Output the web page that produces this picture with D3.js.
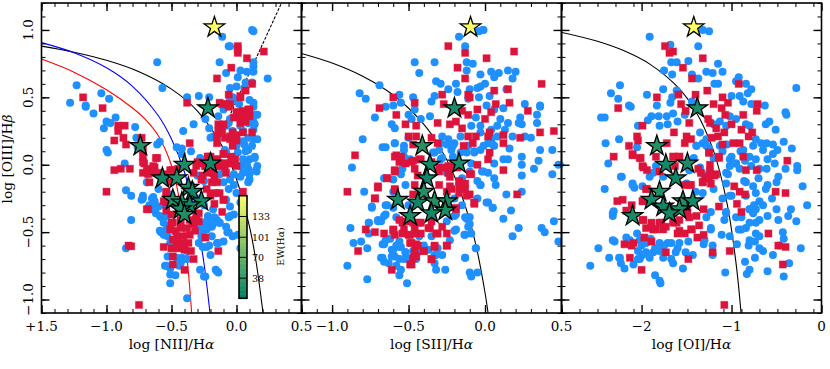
<!DOCTYPE html>
<html>
<head>
<meta charset="utf-8">
<script src="https://cdn.jsdelivr.net/npm/d3@7"></script>
<style>
  body { margin: 0; background: #fff; }
  text { font-family: "DejaVu Serif", serif; fill: #000; }
</style>
</head>
<body>
<script>
// ----- DATA, [x, y] in axis units -----

const niiBlue = [[.12,1.0],[.13,.99],[-.11,.95],[-.06,.88],[-.05,.88],[-.61,.76],[-.13,.76],[.13,.76],[.13,.73],[-.08,.68],[.03,.70],[.08,.69],[.13,.69],[.24,.64],[.01,.65],[.12,.61],[.07,.61],[-1.23,.59],[-.57,.57],[-.05,.57],[0,.58],[.06,.57],[-1.04,.53],[-.98,.49],[-1.28,.46],[-1.16,.44],[-1.16,.43],[-1.10,.38],[-.38,.50],[-.29,.51],[-.21,.50],[-.93,.35],[-1.0,.32],[-.97,.31],[-1.02,.27],[-.78,.28],[-.33,.30],[-.41,.25],[-.24,.34],[-.21,.27],[-.2,.2],[-.59,.17],[-.61,.15],[-1.0,.11],[-.99,.09],[-.77,.20],[-.76,.13],[-.46,.13],[-.42,.12],[-.35,.10],[-.42,.08],[-.86,.01],[-.28,.05],[.15,.37],[.1,.39],[.13,.32],[.09,.31],[.13,.26],[-.05,.34],[-.08,.29],[-.03,.25],[.05,.25],[.09,.2],[.13,.19],[.06,.15],[.09,.11],[.14,.06],[.1,.04],[.07,.01],[.15,-.04],[.09,-.03],[.03,-.01],[-.03,.19],[0,.14],[-.08,.09],[-.03,.5],[.02,.45],[-.05,.45],[.1,.48],[.13,.43],
[-.85,-.19],[-.81,-.23],[-.72,-.23],[-.73,-.26],[-.81,-.41],[-.85,-.62],[-.67,-.30],[-.64,-.33],[-.65,-.25],[-.62,-.36],[-.54,-.38],[-.58,-.50],[-.55,-.52],[-.53,-.53],[-.51,-.58],[-.53,-.68],[-.55,-.75],[-.51,-.77],[-.47,-.82],[-.51,-.88],[-.38,-.99],[-.44,-.75],[-.41,-.70],[-.46,-.69],[-.38,-.64],[-.28,-.78],[-.24,-.83],[-.16,-.78],[-.14,-.80],[-.26,-.61],[-.21,-.60],[-.14,-.58],[-.1,-.57],[-.06,-.50],[-.03,-.53],[.01,-.52],[.03,-.62],[-.06,-.39],[-.18,-.44],[-.23,-.42],[-.13,-.43],[-.28,-.46],[-.26,-.51],[-.22,-.38],
[-.05,-.38],[-.07,-.50],[-.15,-.58],[-.23,-.61],[-.2,-.67],[-.15,-.79],[-.25,-.83],[-.54,-.75],[-.59,-.49],[-.56,-.52],[-.58,-.39],[-.67,-.31],[-.64,-.24],[-.69,-.13],[.05,-.06],[.07,0],[.155,-.05],[.1,-.11],[.03,-.09],[-.05,-.11],[-.1,-.13],[-.15,-.21],[-.08,-.26],[-.05,-.31],[-.18,-.33],[-.19,-.46],[-.24,-.43],[-.27,-.53],[-.15,-.41],[-.6,-.18],[-.55,-.3],[-.5,-.22],[-.52,-.45],[-.3,-.25],[-.25,-.3],[-.35,-.15],[-.3,-.08],[-.25,-.12],
[0,.48],[.13,.46],[.16,.37],[-.05,.48],[-.1,.41],[-.14,.36],[-.06,.31],[.03,.29],[.09,.31],[.14,.30],[-.18,.21],[.05,.175],[.12,.14],[.16,.19],[.07,.1],[.01,.09],[.14,.05],[.08,0],[.16,-.01],[.1,-.07],[-.09,.11],[.05,.04],[-.02,-.07],[-.13,-.07],[-.63,-.27],[-.6,-.31],[-.63,-.33],[-.59,-.38],[-.56,-.43],[-.54,-.48],[-.72,-.25],[-.51,-.815],[-.43,-.73],[-.42,-.69],[-.38,-.7],[-.29,-.58],[-.27,-.46],[-.23,-.48],[-.19,-.53],[-.22,-.42],[-.17,-.39],[-.13,-.43],[-.08,-.46],[-.02,-.37],[.03,-.28],[0,-.21],[-.06,-.18],[-.02,-.15],[.09,-.13]];

const niiRed = [[.01,.88],[.01,.86],[.01,.83],[.08,.79],[.21,.84],[-.04,.72],[-.15,.64],[.12,.60],[.07,.55],[.03,.51],[-.06,.52],[-.38,.46],[-1.18,.50],[-1.03,.42],[-.91,.29],[-.86,.29],[-.91,.25],[-.87,.20],[-.94,.18],[-.85,.15],[-.73,.20],[-.72,.11],[-.72,.06],[-.71,.01],[-.62,.05],[-.69,-.03],[-.63,-.02],[-.68,-.07],[-.82,-.03],[-.89,-.03],[-.94,-.04],[-.36,.16],[-.13,.46],[-.05,.45],[.05,.40],[.09,.41],[.10,.36],[0,.39],[.03,.31],[.07,.32],[.12,.24],[.05,.24],[-.03,.24],[-.05,.21],[-.14,.30],[-.10,.30],[-.14,.25],[-.15,.21],[-.15,.16],[0,.18],[-.03,.14],[-.04,.06],[-.1,.08],[-.08,.01],[-.15,.04],[-.22,.06],[-.28,.01],[-.01,.04],[-.08,.45],[.03,.34],[-.09,.2],[-.2,.06],[-.3,.02],[0,-.01],[-.61,.05],
[-.72,.02],[-.64,-.01],[-.67,-.13],[-.54,-.20],[-.69,-.33],[-.81,-.605],[-.56,-.61],[-.24,-.54],[-.14,-.64],[-.35,-.64],[-.33,-.70],[-.40,-.78],[-.49,-.68],[-.49,-.74],[-.46,-.58],[-.41,-.58],[-.37,-.58],[-.46,-.53],[-.41,-.53],[-.36,-.52],[-.32,-.49],[-.47,-.49],[-.43,-.47],[-.38,-.47],[-.33,-.44],[-.29,-.42],[-.49,-.43],[-.54,-.28],[-.5,-.37],[-.43,-.41],[-.36,-.41],[-.31,-.37],[-.19,-.13],[-.15,-.13],[-.23,-.18],[-.18,-.21],[-.13,-.21],[-.10,-.26],[-.17,-.29],[-.11,-.35],[.05,-.20],[-.26,-.08],[-.24,-.01],[-.33,-.06],[-.18,-.06],[-.09,-.02],[-.49,-.04],[-.51,-.13],[-.59,-.06],[-1.0,-.20],[-.68,-.33],[-.83,-.6],[-.75,-1.04],[-.1,-.26],
[-.11,.25],[-.05,.19],[0,.22],[-.1,.08],[-.05,.01],[-.15,.04],[-.13,-.01],[-.22,.06],[-.24,-.01],[-.18,-.06],[-.08,-.06],[-.02,.35],[.015,.39],[.1,.41],[.05,.37],[-.06,.43],[-.11,.45],[.03,.5],[-.31,-.01],[-.15,-.01],[-.1,.01],[-.27,-.11],[-.22,-.06],[-.17,-.1],[-.2,-.23],[-.43,-.43],[-.49,-.555],[-.5,-.62],[-.45,-.62],[-.4,-.63],[-.51,-.48],[-.34,-.43],[-.31,-.41],[-.29,-.36],[-.45,-.03],[-.51,-.04],[-.55,-.07],[-.64,-.06],[-.72,-.06],[-.54,-.21],[-.56,-.27],[-.54,-.34],[-.5,-.43]];

const niiStars = [[-.22,.42],[-.74,.14],[-.2,.01],[-.40,0],[-.57,-.10],[-.46,-.10],[-.37,-.17],[-.34,-.2],[-.49,-.26],[-.27,-.27],[-.42,-.28],[-.36,-.30],[-.43,-.33],[-.40,-.37]];

const siiBlue = [[-.015,1.0],[-.01,1.0],[-.04,.99],[-.17,.95],[-.13,.88],[-.12,.76],[-.08,.75],[-.46,.76],[-.33,.76],[-.12,.70],[-.43,.68],[-.03,.67],[.04,.69],[.06,.65],[.09,.68],[.15,.70],[.2,.69],[.18,.64],[-.32,.62],[-.29,.60],[-.19,.60],[0,.60],[-.03,.58],[-.05,.57],[-.1,.56],[-.24,.56],[-.18,.54],[-.69,.59],[-.82,.53],[-.78,.49],[-.56,.52],[-.55,.46],[-.47,.5],[-.33,.51],[-.35,.47],[.14,.56],[-.04,.5],[.03,.51],[-.11,.49],[-.6,.44],[-.65,.43],[-.72,.35],[-.46,.41],[-.5,.37],[-.48,.34],[-.42,.34],[-.36,.36],[-.61,.30],[-.59,.27],[-.8,.19],[-.59,.16],[-.65,.13],[-.53,.14],[.26,.45],[.36,.44],[.36,.43],[.34,.37],[.23,.35],[.22,.31],[.24,.30],[.34,.31],[.12,.42],[.06,.41],[.01,.44],[.1,.34],[.15,.31],[.08,.29],[.04,.26],[-.03,.29],[-.06,.35],[-.09,.29],[.18,.21],[.26,.21],[.3,.2],[.06,.14],[.16,.12],[.36,.11],[.44,.11],[.24,.06],[.35,.03],[.48,0],[.24,0],[.32,-.03],[.44,-.07],[.24,-.08],[.12,.04],[.15,.04],[.06,.01],[-.02,-.05],[-.87,-.02],[-.66,-.10],[-.29,.16],[-.24,.19],[-.22,.11],[-.2,.16],[-.28,.21],[-.33,.09],[-.29,.04],[-.11,.14],[-.07,.09],[-.03,.11],[.02,.16],[-.09,.01],[-.16,.09],[-.21,.06],[-.53,.01],[-.54,-.03],[-.55,-.07],[-.5,.2],[-.16,.21],[-.03,.24],[.04,.19],[.08,.21],[.13,.26],
[-.79,-.20],[-.74,-.31],[-.66,-.38],[-.7,-.41],[-.76,-.43],[-.88,-.47],[-.76,-.51],[-.86,-.58],[-.81,-.57],[-.77,-.62],[-.9,-.75],[-.77,-.85],[-.51,-.88],[-.56,-.82],[-.66,-.59],[-.61,-.63],[-.59,-.68],[-.68,-.69],[-.66,-.72],[-.63,-.73],[-.58,-.75],[-.55,-.78],[-.52,-.65],[-.55,-.61],[-.56,-.57],[-.5,-.70],[-.47,-.64],[-.43,-.53],[-.33,-.67],[-.28,-.67],[-.31,-.62],[-.32,-.78],[-.26,-.78],[-.33,-.73],[-.13,-.69],[-.06,-.62],[-.1,-.80],[-.09,-.83],[-.05,-.80],[-.2,-.49],[-.135,-.52],[-.09,-.51],[-.11,-.46],[-.12,-.40],[-.1,-.39],[-.2,-.38],[-.03,-.15],[.07,-.15],[-.05,-.25],[.01,-.28],[.05,-.32],[.14,-.22],[.24,-.20],[.17,-.34],[.12,-.40],[.22,-.47],[.18,-.53],[.37,-.47],[.39,-.50],[.45,-.42],[.48,-.57],[-.64,-.30],[-.6,-.2],[-.52,-.15],[-.5,-.3],[-.15,-.1],[-.1,-.05],[-.05,-.12],[-.2,-.25],[-.15,-.3],[-.25,-.42],[-.45,-.7],[-.4,-.6],[-.58,-.6],[-.53,-.7],[-.62,-.55],
[-.3,.11],[-.25,.15],[-.21,.14],[-.34,.09],[-.28,.05],[-.12,.09],[-.07,.1],[-.01,.14],[.05,.15],[-.53,.11],[-.49,.04],[-.54,.04],[-.01,-.05],[.02,-.06],[.06,-.1],[-.03,-.15],[.02,-.28],[.05,-.32],[-.11,-.39],[-.13,-.39],[-.1,-.44],[-.13,-.52],[-.19,-.48],[-.06,-.62],[-.13,-.69],[-.68,-.42],[-.7,-.42],[-.76,-.43],[-.65,-.37],[-.58,-.39],[-.6,-.32],[-.65,-.3],[-.74,-.32],[-.67,-.59],[-.65,-.56],[-.6,-.63],[-.56,-.61],[-.52,-.65],[-.61,-.68],[-.67,-.69],[-.56,-.7],[-.49,-.7],[-.44,-.65],[-.37,-.63],[-.32,-.67],[-.23,-.56],[-.35,-.53],[-.19,-.37],[-.6,-.11],[-.58,-.05],[-.25,-.06],[-.67,.13],[-.59,.16],[-.53,.06]];

const siiRed = [[-.24,.88],[-.13,.83],[.01,.79],[.19,.84],[-.18,.72],[-.13,.64],[.37,.60],[.06,.55],[.15,.56],[-.28,.52],[-.11,.52],[-.1,.50],[-.6,.50],[-.46,.46],[-.27,.45],[.07,.45],[.16,.46],[-.05,.41],[.04,.39],[.28,.40],[-.69,.42],[-.58,.37],[-.15,.40],[-.11,.37],[0,.34],[-.52,.30],[-.45,.29],[-.31,.31],[-.23,.30],[-.19,.32],[-.15,.27],[.36,.24],[.45,.25],[.03,.24],[.12,.22],[.23,.20],[-.06,.21],[-.11,.21],[.02,.21],[.12,.16],[-.08,.16],[-.14,.14],[-.5,.21],[-.45,.21],[-.35,.20],[-.31,.16],[-.47,.15],[-.85,.07],[-.58,.07],[-.55,.06],[-.56,.02],[-.48,.02],[-.43,.04],[.03,.09],[.02,.04],[-.05,0],[.12,-.04],[-.59,-.04],[-.09,-.07],[-.24,-.01],[-.18,-.02],[-.24,-.06],[-.64,-.10],[-.46,-.03],[-.44,-.08],[-.3,-.02],[-.35,.02],
[-.9,-.20],[-.72,-.25],[-.7,-.16],[.21,-.22],[-.1,-.22],[-.07,-.28],[-.19,-.33],[-.78,-.48],[-.72,-.50],[-.66,-.51],[-.6,-.49],[-.59,-.52],[-.83,-.64],[-.61,-.78],[-.49,-.74],[-.47,-.69],[-.46,-.64],[-.4,-.64],[-.35,-.70],[-.33,-.61],[-.25,-.60],[-.25,-.51],[-.31,-.51],[-.28,-.46],[-.36,-.47],[-.42,-.51],[-.49,-.52],[-.53,-.48],[-.46,-.47],[-.54,-.43],[-.49,-.58],[-.45,-.59],[-.48,-.42],[-.42,-.43],[-.35,-.42],[-.59,-.18],[-.47,-.22],[-.22,-.18],[-.17,-.16],[-.13,-.18],[-.3,-.15],[-.25,-.2],
[-.59,.06],[-.55,.04],[-.52,.01],[-.47,.03],[-.42,.04],[-.59,-.05],[-.64,-.1],[-.7,-.17],[-.72,-.25],[-.59,-.19],[-.46,-.15],[-.27,-.02],[-.21,-.02],[-.3,-.05],[-.23,-.09],[-.13,-.14],[-.17,-.12],[-.23,-.16],[-.17,-.21],[-.12,-.23],[-.07,-.29],[-.1,-.07],[-.19,-.32],[-.56,-.41],[-.52,-.42],[-.47,-.43],[-.43,-.43],[-.37,-.47],[-.32,-.51],[-.5,-.52],[-.46,-.51],[-.54,-.51],[-.6,-.48],[-.48,-.58],[-.44,-.6],[-.33,-.6],[-.25,-.6],[-.4,-.64],[-.45,-.68],[-.48,-.74],[-.35,-.7]];

const siiStars = [[-.2,.42],[-.41,.14],[-.36,0],[-.17,.01],[-.38,-.10],[-.40,-.2],[-.57,-.26],[-.44,-.28],[-.33,-.27],[-.25,-.27],[-.26,-.34],[-.35,-.36],[-.49,-.38]];

const oiBlue = [[-1.25,.99],[-1.32,1.0],[-1.91,.95],[-1.68,.89],[-1.37,.88],[-1.67,.76],[-1.61,.76],[-1.48,.77],[-1.15,.75],[-1.75,.70],[-1.66,.67],[-1.28,.69],[-1.21,.68],[-1.1,.69],[-1.44,.67],[-1.37,.64],[-2.24,.59],[-2.34,.53],[-2.26,.49],[-1.76,.56],[-1.94,.52],[-1.61,.55],[-1.15,.6],[-1.19,.6],[-.92,.65],[-.95,.62],[-.84,.60],[-.78,.56],[-.82,.53],[-.28,.57],[-1.0,.51],[-.91,.51],[-.87,.47],[-1.66,.5],[-1.68,.46],[-1.83,.44],[-2.14,.44],[-2.12,.43],[-1.44,.47],[-.63,.44],[-.78,.45],[-.4,.39],[-.39,.37],[-.58,.32],[-.62,.30],[-.51,.26],[-2.45,.35],[-2.41,.35],[-1.89,.36],[-1.81,.36],[-1.72,.36],[-1.65,.38],[-1.93,.33],[-2.04,.29],[-1.8,.29],[-1.71,.30],[-1.6,.32],[-1.52,.37],[-2.4,.16],[-2.25,.19],[-2.37,.01],[-2.05,.13],[-2.22,-.09],[-2.91,0],[-.42,.17],[-.33,.12],[-.27,-.01],[-.27,-.04],[-.4,-.03],[-.48,-.09],[-.67,.16],[-.61,.16],[-.54,.15],[-.49,.11],[-.54,.08],[-.65,.11],[-.76,.14],[-.73,.19],[-.8,.29],[-.84,.3],[-.95,.34],[-1.02,.36],[-1.06,.29],[-1.13,.32],[-1.35,.24],[-1.28,.19],[-1.39,.14],[-1.32,.16],[-1.0,.06],[-.95,.01],[-1.02,-.01],[-.78,-.01],[-.69,-.03],[-.52,.01],[-.61,-.03],[-.6,.04],[-1.04,-.07],[-.91,-.03],[-1.2,.3],[-1.05,.15],[-.9,.1],[-.85,.03],[-1.2,.05],[-1.1,.1],[-1.42,.05],[-1.35,-.02],[-1.25,.12],
[-2.41,-.18],[-2.31,-.345],[-2.32,-.38],[-2.3,-.57],[-2.48,-.62],[-2.36,-.69],[-2.57,-.75],[-2.24,-.69],[-2.23,-.73],[-2.19,-.77],[-2.09,-.74],[-2.17,-.54],[-2.05,-.51],[-2.02,-.56],[-2.04,-.64],[-2.0,-.6],[-1.95,-.65],[-2.02,-.70],[-1.85,-.82],[-1.79,-.88],[-1.8,-.86],[-1.91,-.69],[-1.8,-.64],[-1.76,-.69],[-1.67,-.58],[-1.67,-.70],[-1.65,-.73],[-1.54,-.77],[-1.51,-.65],[-1.58,-.58],[-1.48,-.57],[-1.31,-.59],[-1.21,-.67],[-1.07,-.80],[-.83,-.81],[-.8,-.78],[-.85,-.72],[-.74,-.69],[-.94,-.59],[-.81,-.6],[-.74,-.57],[-.69,-.53],[-.69,-.62],[-.65,-.64],[-.54,-.67],[-.47,-.6],[-.43,-.5],[-.42,-.55],[-.23,-.62],[-.6,-.79],[-.42,-.83],[-.36,-.73],[-.28,-.42],[-.16,-.3],[-.21,-.16],[-.34,-.33],[-.37,-.38],[-.48,-.41],[-.69,-.41],[-.8,-.33],[-.8,-.43],[-.73,-.43],[-.6,-.38],[-.65,-.3],[-.69,-.27],[-.5,-.33],[-.62,-.18],[-.73,-.21],[-.84,-.23],[-1.02,-.23],[-1.06,-.36],[-.95,-.39],[-.92,-.48],[-1.11,-.52],[-1.23,-.35],[-1.32,-.21],[-1.23,-.48],[-.5,-.13],[-.84,-.13],[-2.23,-.09],[-2.1,-.14],[-2.08,-.17],[-2.32,-.36],[-1.9,-.55],[-1.85,-.62],[-1.75,-.6],[-1.6,-.62],[-1.4,-.2],[-1.3,-.1],[-1.2,-.18],[-1.1,-.25],[-.7,-.1],[-.6,-.15],[-.75,-.3],[-.55,-.25],
[-2.1,-.15],[-.87,.11],[-.8,.06],[-.73,.04],[-.95,.01],[-1.02,.04],[-1.28,.14],[-1.39,.14],[-1.13,.14],[-1.25,-.06],[-1.06,-.06],[-1.06,-.14],[-1.0,-.23],[-.8,-.33],[-.76,-.36],[-.73,-.33],[-.89,-.39],[-1.06,-.35],[-1.08,-.41],[-.84,-.47],[-.89,-.48],[-.73,-.51],[-.8,-.56],[-1.02,-.53],[-1.28,-.39],[-1.3,-.56],[-1.23,-.47],[-1.43,-.67],[-1.62,-.65],[-1.71,-.58],[-1.8,-.58],[-1.87,-.65],[-1.99,-.67],[-2.04,-.7],[-2.13,-.56],[-2.25,-.69],[-2.32,-.56],[-1.95,-.58],[-1.84,-.01],[-1.87,-.06],[-1.91,-.09],[-1.99,-.16],[-1.76,-.09],[-1.5,-.14],[-1.21,-.6],[-1.47,-.04],[-1.34,-.06],[-.86,-.12],[-.76,-.16]];

const oiRed = [[-1.74,.88],[-1.69,.83],[-1.65,.84],[-1.32,.79],[-1.54,.72],[-1.44,.64],[-.92,.60],[-1.27,.55],[-1.4,.52],[-1.59,.52],[-1.83,.50],[-2.26,.42],[-1.56,.45],[-1.51,.40],[-1.2,.45],[-1.11,.42],[-1.1,.50],[-1.04,.46],[-.71,.45],[-.72,.40],[-1.07,.37],[-.87,.37],[-1.26,.34],[-1.24,.31],[-1.47,.31],[-1.99,.29],[-1.0,.30],[-1.17,.27],[-1.64,.24],[-.89,.26],[-.77,.24],[-.81,.21],[-1.08,.24],[-1.15,.21],[-1.22,.2],[-1.5,.21],[-1.45,.19],[-1.52,.16],[-2.05,.21],[-2.04,.18],[-2.14,.14],[-1.72,.16],[-.98,.16],[-.91,.16],[-1.1,.15],[-2.1,.07],[-2.31,.06],[-2.01,.05],[-1.25,.09],[-1.64,.06],[-1.58,.06],[-1.84,.06],[-.87,.06],[-1.14,.05],[-.38,.03],[-1.98,-.02],[-1.94,-.04],[-1.24,0],[-1.37,-.03],[-1.24,-.05],[-.84,-.04],[-.72,-.04],[-1.19,-.08],[-1.29,-.09],[-1.63,-.01],[-1.8,-.05],
[-2.27,-.27],[-2.21,-.26],[-2.17,-.34],[-2.11,-.3],[-1.98,-.27],[-1.94,-.18],[-1.45,-.15],[-1.32,-.13],[-1.23,-.14],[-.97,-.16],[-.91,-.2],[-.85,-.22],[-.51,-.2],[-.4,-.21],[-.94,-.29],[-1.14,-.31],[-.89,-.35],[-1.31,-.33],[-1.39,-.38],[-1.47,-.39],[-1.36,-.45],[-1.44,-.48],[-1.31,-.52],[-1.38,-.54],[-1.52,-.51],[-1.58,-.49],[-1.61,-.43],[-1.76,-.48],[-1.84,-.48],[-1.89,-.46],[-1.78,-.43],[-1.98,-.41],[-1.97,-.54],[-1.89,-.57],[-2.09,-.58],[-2.11,-.6],[-2.19,-.59],[-2.13,-.69],[-2.0,-.78],[-1.73,-.65],[-1.48,-.70],[-1.21,-.65],[-1.02,-.64],[-.59,-.51],[-.48,-.6],[-.4,-.61],[-.43,-.74],[-1.08,-1.04],
[-2.1,.08],[-2.02,.05],[-1.99,-.01],[-1.65,.06],[-1.58,.06],[-1.25,.09],[-1.14,.06],[-1.32,-.13],[-1.25,-.1],[-1.17,-.07],[-1.34,-.06],[-1.47,-.15],[-1.52,-.15],[-1.95,-.18],[-1.99,-.27],[-1.45,-.48],[-1.6,-.51],[-1.65,-.43],[-1.87,-.48],[-1.95,-.47],[-1.99,-.41],[-1.89,-.43],[-1.8,-.43],[-1.73,-.46],[-1.58,-.41],[-1.49,-.35]];

const oiStars = [[-1.38,.42],[-1.83,.14],[-1.73,0],[-1.49,.01],[-1.62,-.10],[-1.8,-.2],[-1.89,-.26],[-1.76,-.31],[-1.54,-.27],[-1.43,-.27],[-1.58,-.33],[-1.69,-.36],[-2.10,-.38]];

// the one yellow star of each panel, high EW
const niiTop = [[-.17,1.02]], siiTop = [[-.095,1.02]], oiTop = [[-1.42,1.02]];

// demarcation curves
const niiKewley = [[-1.5,.88],[-1.25,.835],[-1,.775],[-.75,.69],[-.5,.561],[-.3,.398],[-.1,.12],[0,-.108],[.1,-.459],[.15,-.716],[.2,-1.069],[.204,-1.1]];
const niiKauffmann = [[-1.5,.906],[-1.25,.831],[-1,.719],[-.8,.582],[-.6,.362],[-.5,.191],[-.4,-.056],[-.3,-.443],[-.25,-.733],[-.204,-1.1]];
const niiStasinska = [[-1.5,.784],[-1.25,.687],[-1,.556],[-.8,.421],[-.7,.335],[-.6,.213],[-.5,-.006],[-.45,-.205],[-.4,-.526],[-.37,-.798],[-.345,-1.1]];
const niiSeyfert = [[-.13,.2],[.346,1.2]];
const siiKewley = [[-1.2,.826],[-1,.755],[-.8,.657],[-.6,.517],[-.4,.3],[-.3,.139],[-.2,-.085],[-.1,-.414],[-.05,-.646],[0,-.95],[.02,-1.1]];
const oiKewley = [[-2.9,.984],[-2.5,.918],[-2.2,.847],[-1.9,.743],[-1.6,.577],[-1.4,.399],[-1.2,.103],[-1.05,-.287],[-.95,-.73],[-.894,-1.1]];

// tick labels
const yTicks = [1, .5, 0, -.5, -1];
const yLabels = ["1.0", "0.5", "0.0", "\u22120.5", "\u22121.0"];
const niiTicks = [-1.5, -1, -.5, 0, .5];
const niiLabels = ["+1.5", "\u22121.0", "\u22120.5", "0.0", "0.5"];
const siiTicks = [-1, -.5, 0, .5];
const siiLabels = ["\u22121.0", "\u22120.5", "0.0", "0.5"];
const oiTicks = [-2, -1, 0];
const oiLabels = ["\u22122", "\u22121", "0"];

// colourbar
const ewTicks = [38, 70, 101, 133];
const ewRange = [7, 165];
const starEW = [22, 30, 18, 24, 16, 28, 20, 15, 26, 19, 23, 17, 21, 25];

// ----- LAYOUT -----
const plotTop = 3, plotBottom = 313;
const yScale = d3.scaleLinear().domain([-1.1, 1.2]).range([plotBottom, plotTop]);
const summer = t => d3.rgb(255 * t, 127.5 + 127.5 * t, 102) + "";
const ewColor = d3.scaleLinear().domain(ewRange).range([0, 1]);

const svg = d3.select("body").append("svg").attr("width", 830).attr("height", 369);
const defs = svg.append("defs");

function minorTicks(a, b, step) {
  return d3.range(Math.round((b - a) / step) + 1).map(i => a + i * step);
}

function panel(id, left, right, xDomain, minorStep, blue, red, stars, topStar, lines, ticks, labels, xTitle) {
  const xScale = d3.scaleLinear().domain(xDomain).range([left, right]);
  const g = svg.append("g");

  defs.append("clipPath").attr("id", "clip" + id).append("rect").
  attr("x", left).attr("y", plotTop).attr("width", right - left).attr("height", plotBottom - plotTop);
  const plot = g.append("g").attr("clip-path", "url(#clip" + id + ")");

  const line = d3.line().x(d => xScale(d[0])).y(d => yScale(d[1])).curve(d3.curveCatmullRom);
  lines.forEach(l => {
    plot.append("path").attr("d", line(l.pts)).attr("fill", "none").
    attr("stroke", l.color).attr("stroke-width", 1.1).
    attr("stroke-dasharray", l.dash || null);
  });

  plot.selectAll("circle").data(blue).enter().append("circle").
  attr("cx", d => xScale(d[0])).attr("cy", d => yScale(d[1])).attr("r", 4).
  attr("fill", "#1e90ff");

  plot.selectAll("rect.sq").data(red).enter().append("rect").attr("class", "sq").
  attr("x", d => xScale(d[0]) - 3.6).attr("y", d => yScale(d[1]) - 3.6).
  attr("width", 7.2).attr("height", 7.2).attr("fill", "#dc143c").
  attr("stroke", "#dc143c").attr("stroke-opacity", 0.35).attr("stroke-width", 1);

  const star = d3.symbol().type(d3.symbolStar).size(130);
  plot.selectAll("path.star").data(stars).enter().append("path").attr("class", "star").
  attr("d", star).
  attr("transform", d => "translate(" + xScale(d[0]) + "," + yScale(d[1]) + ")").
  attr("fill", (d, i) => summer(ewColor(starEW[i]))).
  attr("stroke", "#000").attr("stroke-width", 1.3);

  plot.selectAll("path.topstar").data(topStar).enter().append("path").attr("class", "topstar").
  attr("d", star).
  attr("transform", d => "translate(" + xScale(d[0]) + "," + yScale(d[1]) + ")").
  attr("fill", summer(1)).attr("stroke", "#000").attr("stroke-width", 1.3);

  // ----- AXES, ticks point inward on all four sides -----
  const minorX = minorTicks(xDomain[0], xDomain[1], minorStep);
  const minorY = minorTicks(-1.1, 1.2, .1);

  const axes = [
    [d3.axisBottom(xScale), plotBottom, "x", minorX, ticks],
    [d3.axisTop(xScale), plotTop, "x", minorX, ticks],
    [d3.axisLeft(yScale), left, "y", minorY, yTicks],
    [d3.axisRight(yScale), right, "y", minorY, yTicks]];
  axes.forEach(a => {
    const tr = a[2] === "x" ? "translate(0," + a[1] + ")" : "translate(" + a[1] + ",0)";
    g.append("g").attr("transform", tr).
    call(a[0].tickValues(a[3]).tickSize(-4).tickFormat("")).
    call(s => s.selectAll(".domain").remove()).
    call(s => s.selectAll("line").attr("stroke-width", 1));
    g.append("g").attr("transform", tr).
    call(a[0].tickValues(a[4]).tickSize(-8).tickFormat("")).
    call(s => s.selectAll(".domain").remove()).
    call(s => s.selectAll("line").attr("stroke-width", 1.4));
  });

  ticks.forEach((t, i) => {
    g.append("text").attr("x", xScale(t)).attr("y", 330.5).attr("text-anchor", "middle").
    style("font-size", "13.5px").text(labels[i]);
  });

  g.append("rect").attr("x", left).attr("y", plotTop).attr("width", right - left).
  attr("height", plotBottom - plotTop).attr("fill", "none").attr("stroke", "#000").attr("stroke-width", 1.6);

  const title = g.append("text").attr("x", (left + right) / 2).attr("y", 349).
  attr("text-anchor", "middle").style("font-size", "13.8px").text(xTitle);
  title.append("tspan").style("font-style", "italic").text("\u03b1");
}

panel(1, 41.5, 301.5, [-1.5, .5], .1, niiBlue, niiRed, niiStars, niiTop,
  [{pts: niiKewley, color: "#000"}, {pts: niiKauffmann, color: "#0000ff"},
    {pts: niiStasinska, color: "#ff0000"}, {pts: niiSeyfert, color: "#000", dash: "3,1.5"}],
  niiTicks, niiLabels, "log [NII]/H");
panel(2, 301.5, 561.5, [-1.2, .5], .1, siiBlue, siiRed, siiStars, siiTop,
  [{pts: siiKewley, color: "#000"}], siiTicks, siiLabels, "log [SII]/H");
panel(3, 561.5, 821.5, [-2.89, 0], .2, oiBlue, oiRed, oiStars, oiTop,
  [{pts: oiKewley, color: "#000"}], oiTicks, oiLabels, "log [OI]/H");

// ----- Y LABELS (first panel only) -----
yTicks.forEach((t, i) => {
  svg.append("text").attr("transform", "translate(33," + yScale(t) + ") rotate(-90)").
  attr("text-anchor", "middle").style("font-size", "13.5px").text(yLabels[i]);
});
const yTitle = svg.append("text").attr("transform", "translate(12,159) rotate(-90)").
attr("text-anchor", "middle").style("font-size", "13.8px").text("log [OIII]/H");
yTitle.append("tspan").style("font-style", "italic").text("\u03b2");

// ----- COLOURBAR -----
const cbY = d3.scaleLinear().domain(ewRange).range([298.3, 195.7]);
const steps = d3.range(ewRange[0], ewRange[1], 2);
svg.selectAll("rect.cb").data(steps).enter().append("rect").attr("class", "cb").
attr("x", 239).attr("width", 8).
attr("y", d => cbY(d + 2)).attr("height", d => cbY(d) - cbY(d + 2) + .5).
attr("fill", d => summer(ewColor(d)));
svg.selectAll("line.cbt").data(ewTicks).enter().append("line").attr("class", "cbt").
attr("x1", 239).attr("x2", 247).attr("y1", d => cbY(d)).attr("y2", d => cbY(d)).
attr("stroke", "#000").attr("stroke-width", 1);
svg.append("rect").attr("x", 239).attr("y", 195.7).attr("width", 8).attr("height", 102.6).
attr("fill", "none").attr("stroke", "#000").attr("stroke-width", 1.6);
svg.selectAll("text.cbl").data(ewTicks).enter().append("text").attr("class", "cbl").
attr("x", 252).attr("y", d => cbY(d) + 3.5).style("font-size", "9.5px").text(d => d);
const cbTitle = svg.append("text").attr("transform", "translate(284,246.5) rotate(-90)").
attr("text-anchor", "middle").style("font-size", "9.4px").text("EW(H");
cbTitle.append("tspan").style("font-style", "italic").text("\u03b1");
cbTitle.append("tspan").text(")");
</script>
</body>
</html>
